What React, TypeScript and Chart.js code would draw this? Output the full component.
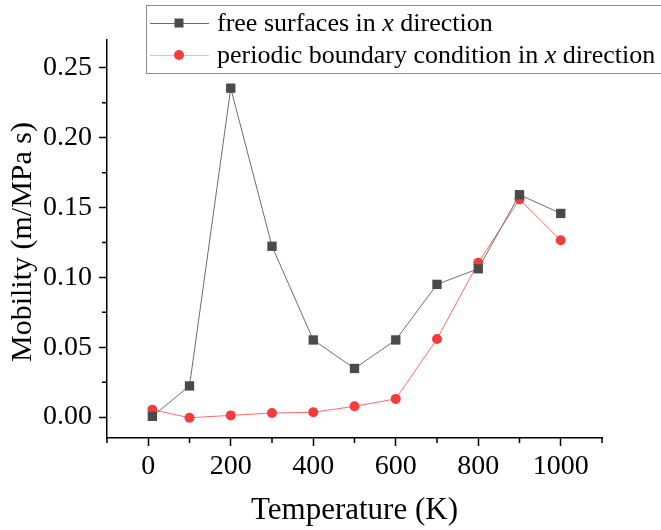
import React, { useEffect, useRef } from 'react';
import { Chart, registerables } from 'chart.js';

Chart.register(...registerables);

const temperatures = [10, 100, 200, 300, 400, 500, 600, 700, 800, 900, 1000];
const freeSurfaces = [0.0005, 0.0223, 0.2355, 0.1223, 0.0552, 0.0348, 0.0552, 0.095, 0.1062, 0.1592, 0.1458];
const periodicBoundary = [0.0053, -0.0005, 0.0012, 0.0029, 0.0034, 0.0077, 0.013, 0.0559, 0.1105, 0.1559, 0.1266];

const xMajorTicks = [0, 200, 400, 600, 800, 1000];
const xMinorTicks = [-100, 100, 300, 500, 700, 900, 1100];
const yMajorTicks = [0, 0.05, 0.1, 0.15, 0.2, 0.25];
const yMinorTicks = [0.025, 0.075, 0.125, 0.175, 0.225];

const seriesLabels = ['free surfaces in ', 'periodic boundary condition in '];
const yTitle = 'Mobility (m/MPa s)';
const xTitle = 'Temperature (K)';
const FONT = '"Liberation Serif", "Times New Roman", serif';

const BLACK_LINE = '#6e6e6e';
const BLACK_POINT = '#4a4a4a';
const RED_LINE = '#ff6a6a';
const RED_POINT = '#f73b3b';

const minorTicksPlugin = {
  id: 'minorTicks',
  afterDraw(chart: any) {
    const { ctx, chartArea, scales } = chart;
    ctx.save();
    ctx.strokeStyle = '#000';
    ctx.lineWidth = 1.5;
    ctx.beginPath();
    xMinorTicks.forEach((v) => {
      const px = scales.x.getPixelForValue(v);
      ctx.moveTo(px, chartArea.bottom);
      ctx.lineTo(px, chartArea.bottom + 5);
    });
    yMinorTicks.forEach((v) => {
      const py = scales.y.getPixelForValue(v);
      ctx.moveTo(chartArea.left, py);
      ctx.lineTo(chartArea.left - 5, py);
    });
    ctx.stroke();
    ctx.restore();
  },
};

const yTitlePlugin = {
  id: 'yTitle',
  afterDraw(chart: any) {
    const { ctx } = chart;
    ctx.save();
    ctx.translate(23, 242);
    ctx.rotate(-Math.PI / 2);
    ctx.fillStyle = '#000';
    ctx.font = `30px ${FONT}`;
    ctx.textAlign = 'center';
    ctx.textBaseline = 'middle';
    ctx.fillText(yTitle, 0, 0);
    ctx.restore();
  },
};

const legendPlugin = {
  id: 'customLegend',
  afterDraw(chart: any) {
    const { ctx } = chart;
    ctx.save();
    const bx = 146.5;
    const by = 5.5;
    const bw = 520;
    const bh = 68;
    ctx.fillStyle = '#fff';
    ctx.fillRect(bx, by, bw, bh);
    ctx.strokeStyle = '#8c8c8c';
    ctx.lineWidth = 1;
    ctx.strokeRect(bx, by, bw, bh);
    const rows = [23, 55];
    const lineColors = [BLACK_LINE, '#ffb3b3'];
    chart.data.datasets.forEach((ds: any, i: number) => {
      const y = rows[i];
      ctx.strokeStyle = lineColors[i];
      ctx.lineWidth = 1;
      ctx.beginPath();
      ctx.moveTo(150, y + 0.5);
      ctx.lineTo(209, y + 0.5);
      ctx.stroke();
      ctx.fillStyle = ds.pointBackgroundColor;
      ctx.beginPath();
      if (i === 0) {
        ctx.rect(179 - 4.5, y - 4.5, 9, 9);
      } else {
        ctx.arc(179, y, 5, 0, Math.PI * 2);
      }
      ctx.fill();
      ctx.fillStyle = '#000';
      ctx.textBaseline = 'middle';
      ctx.textAlign = 'left';
      let tx = 217;
      ctx.font = `26px ${FONT}`;
      ctx.fillText(seriesLabels[i], tx, y + 1);
      tx += ctx.measureText(seriesLabels[i]).width;
      ctx.font = `italic 26px ${FONT}`;
      ctx.fillText('x', tx, y + 1);
      tx += ctx.measureText('x').width;
      ctx.font = `26px ${FONT}`;
      ctx.fillText(' direction', tx, y + 1);
    });
    ctx.restore();
  },
};

export default function App() {
  const canvasRef = useRef<HTMLCanvasElement | null>(null);

  useEffect(() => {
    if (!canvasRef.current) return;
    const chart = new Chart(canvasRef.current, {
      type: 'scatter',
      data: {
        datasets: [
          {
            label: 'free surfaces in x direction',
            data: temperatures.map((t, i) => ({ x: t, y: freeSurfaces[i] })),
            showLine: true,
            borderColor: BLACK_LINE,
            borderWidth: 1,
            pointStyle: 'rect',
            pointRadius: 6.6,
            pointBackgroundColor: BLACK_POINT,
            pointBorderColor: BLACK_POINT,
            pointBorderWidth: 0,
          },
          {
            label: 'periodic boundary condition in x direction',
            data: temperatures.map((t, i) => ({ x: t, y: periodicBoundary[i] })),
            showLine: true,
            borderColor: RED_LINE,
            borderWidth: 1,
            pointStyle: 'circle',
            pointRadius: 5,
            pointBackgroundColor: RED_POINT,
            pointBorderColor: RED_POINT,
            pointBorderWidth: 0,
          },
        ],
      },
      options: {
        responsive: false,
        animation: false,
        devicePixelRatio: 1,
        layout: { padding: { top: 40, right: 59, left: 0, bottom: 0 } },
        plugins: { legend: { display: false }, tooltip: { enabled: false } },
        scales: {
          x: {
            type: 'linear',
            min: -100,
            max: 1100,
            afterBuildTicks: (scale: any) => {
              scale.ticks = xMajorTicks.map((v) => ({ value: v }));
            },
            afterFit: (scale: any) => {
              scale.height = 92;
            },
            grid: {
              drawOnChartArea: false,
              drawTicks: true,
              tickLength: 8,
              tickWidth: 1.5,
              tickColor: '#000',
            },
            border: { display: true, color: '#000', width: 1.5 },
            ticks: {
              autoSkip: false,
              maxRotation: 0,
              padding: 4,
              color: '#000',
              font: { family: FONT, size: 28 },
              callback: (v: any) => String(v),
            },
            title: {
              display: true,
              text: xTitle,
              color: '#000',
              font: { family: FONT, size: 31 },
              padding: { top: 0, bottom: 1 },
            },
          },
          y: {
            type: 'linear',
            min: -0.015,
            max: 0.27,
            afterBuildTicks: (scale: any) => {
              scale.ticks = yMajorTicks.map((v) => ({ value: v }));
            },
            afterFit: (scale: any) => {
              scale.width = 107;
            },
            grid: {
              drawOnChartArea: false,
              drawTicks: true,
              tickLength: 8,
              tickWidth: 1.5,
              tickColor: '#000',
            },
            border: { display: true, color: '#000', width: 1.5 },
            ticks: {
              autoSkip: false,
              padding: 7,
              color: '#000',
              font: { family: FONT, size: 28 },
              callback: (v: any) => Number(v).toFixed(2),
            },
            title: { display: false },
          },
        },
      },
      plugins: [minorTicksPlugin, yTitlePlugin, legendPlugin],
    } as any);
    return () => chart.destroy();
  }, []);

  return (
    <div style={{ position: 'absolute', left: 0, top: 0, width: 661, height: 530 }}>
      <canvas ref={canvasRef} width={661} height={530} style={{ display: 'block' }} />
    </div>
  );
}
